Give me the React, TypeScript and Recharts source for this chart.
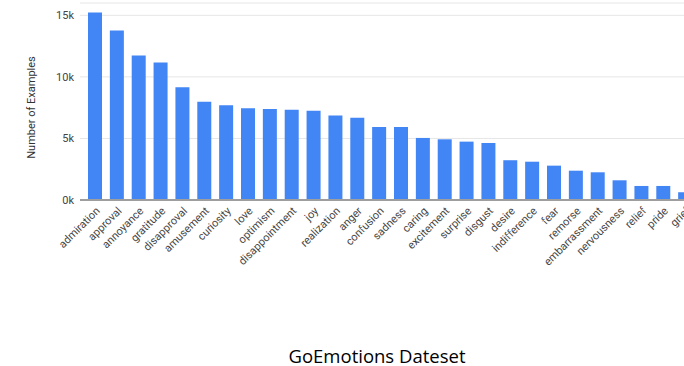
import React from "react";
import { BarChart, Bar, XAxis, YAxis, CartesianGrid, Label } from "recharts";

const emotions = [
  "admiration", "approval", "annoyance", "gratitude", "disapproval", "amusement",
  "curiosity", "love", "optimism", "disappointment", "joy", "realization", "anger",
  "confusion", "sadness", "caring", "excitement", "surprise", "disgust", "desire",
  "indifference", "fear", "remorse", "embarrassment", "nervousness", "relief", "pride", "grief",
];
const counts = [
  15230, 13770, 11730, 11160, 9160, 7970, 7700, 7450, 7400, 7340, 7240, 6860, 6690,
  5920, 5930, 5040, 4930, 4740, 4630, 3230, 3110, 2790, 2380, 2250, 1600, 1140, 1140, 630,
];
const yTicks = [0, 5000, 10000, 15000];
const title = "GoEmotions Dateset";
const yTitle = "Number of Examples";

const data = emotions.map((name, i) => ({ name, value: counts[i] }));

export default function App() {
  return (
    <div style={{ position: "absolute", left: 0, top: 0, width: 684, height: 366, overflow: "hidden", background: "#fff" }}>
      <BarChart
        width={700}
        height={290}
        data={data}
        margin={{ top: 3, right: 4, bottom: 0, left: 0 }}
        barSize={14}
      >
        <CartesianGrid vertical={false} stroke="#e6e6e6" strokeWidth={1} />
        <XAxis
          dataKey="name"
          interval={0}
          height={90}
          padding={{ left: 4, right: 0 }}
          tickLine={false}
          tickSize={4}
          tickMargin={2}
          axisLine={{ stroke: "#9e9e9e", strokeWidth: 2 }}
          angle={-45}
          textAnchor="end"
          tick={{ fill: "#444", fontSize: 11, fontFamily: "Roboto" }}
        />
        <YAxis
          width={80}
          domain={[0, 16000]}
          ticks={yTicks}
          tickFormatter={(v: number) => `${v / 1000}k`}
          axisLine={false}
          tickLine={false}
          tickSize={0}
          tickMargin={6}
          tick={{ fill: "#444", fontSize: 11, fontFamily: "Roboto" }}
        >
          <Label
            value={yTitle}
            position="center"
            angle={-90}
            dx={-9}
            dy={6}
            style={{ fill: "#333", fontSize: 11, fontFamily: "Roboto", textAnchor: "middle" }}
          />
        </YAxis>
        <Bar dataKey="value" fill="#4285F4" isAnimationActive={false} />
      </BarChart>
      <div
        style={{
          position: "absolute",
          left: 70,
          width: 614,
          top: 347,
          lineHeight: "18px",
          textAlign: "center",
          fontFamily: "'Open Sans', sans-serif",
          fontSize: 18.5,
          color: "#000",
        }}
      >
        {title}
      </div>
    </div>
  );
}
